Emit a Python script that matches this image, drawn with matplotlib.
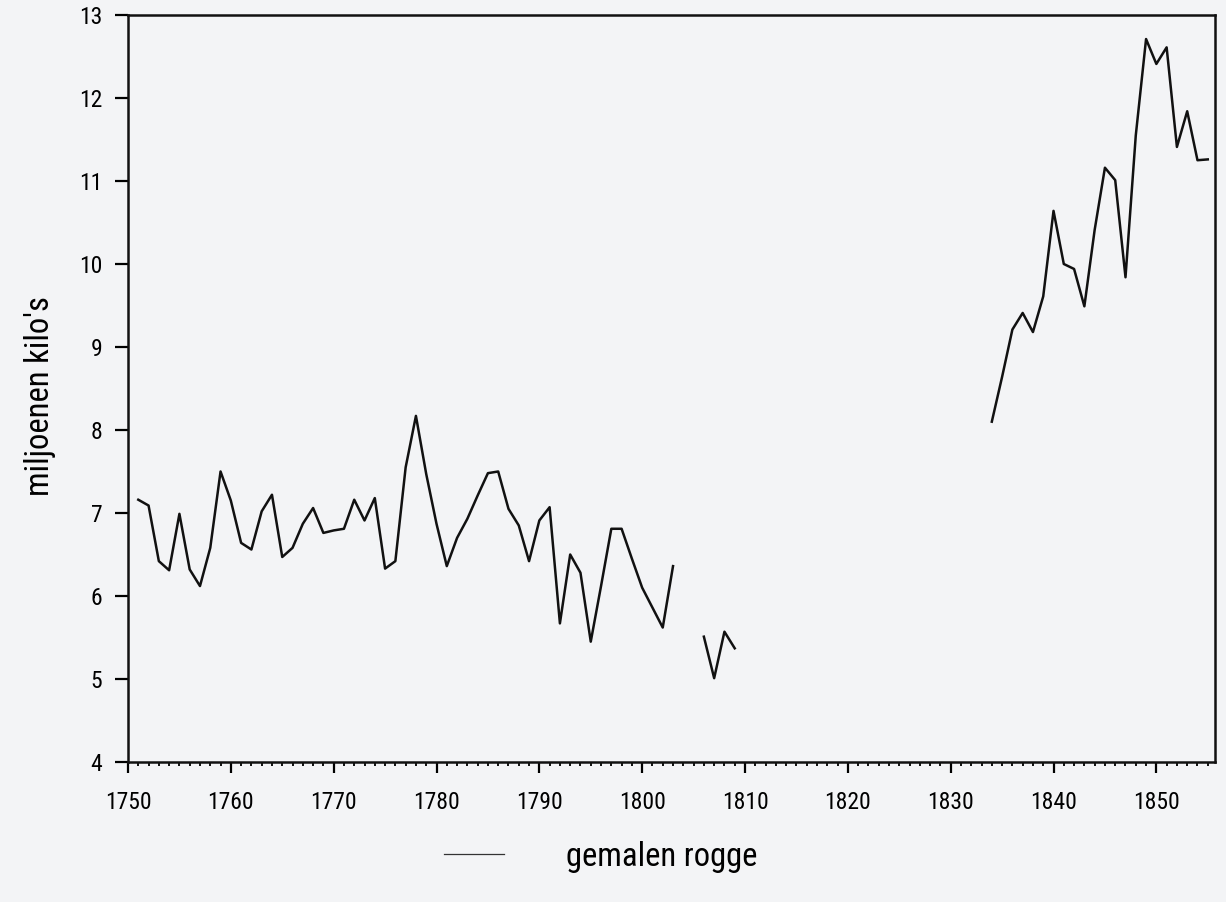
import numpy as np
import matplotlib
matplotlib.use("Agg")
import matplotlib.pyplot as plt
from matplotlib import font_manager
from matplotlib.lines import Line2D

# smalle letter als die er is, anders DejaVu Sans wat kleiner
names = {f.name for f in font_manager.fontManager.ttflist}
narrow = [n for n in ['Liberation Sans Narrow', 'DejaVu Sans Condensed',
                      'Roboto Condensed', 'Open Sans Condensed'] if n in names]
if narrow:
    plt.rcParams['font.family'] = [narrow[0], 'DejaVu Sans']
    scale = 1.0
else:
    plt.rcParams['font.family'] = ['DejaVu Sans']
    scale = 0.8

# jaartallen en hoeveelheden gemalen rogge (miljoenen kilo's), gaten = geen gegevens
years = list(range(1751, 1856))
rogge = {
    1751: 7.16, 1752: 7.09, 1753: 6.42, 1754: 6.31, 1755: 6.99, 1756: 6.32,
    1757: 6.12, 1758: 6.58, 1759: 7.50, 1760: 7.15, 1761: 6.64, 1762: 6.56,
    1763: 7.02, 1764: 7.22, 1765: 6.47, 1766: 6.58, 1767: 6.87, 1768: 7.06,
    1769: 6.76, 1770: 6.79, 1771: 6.81, 1772: 7.16, 1773: 6.91, 1774: 7.18,
    1775: 6.33, 1776: 6.42, 1777: 7.55, 1778: 8.17, 1779: 7.47, 1780: 6.87,
    1781: 6.36, 1782: 6.70, 1783: 6.93, 1784: 7.21, 1785: 7.48, 1786: 7.50,
    1787: 7.05, 1788: 6.85, 1789: 6.42, 1790: 6.91, 1791: 7.07, 1792: 5.67,
    1793: 6.50, 1794: 6.28, 1795: 5.45, 1796: 6.12, 1797: 6.81, 1798: 6.81,
    1799: 6.45, 1800: 6.10, 1801: 5.86, 1802: 5.62, 1803: 6.36,
    1806: 5.51, 1807: 5.01, 1808: 5.57, 1809: 5.37,
    1834: 8.10, 1835: 8.64, 1836: 9.21, 1837: 9.41, 1838: 9.18, 1839: 9.61,
    1840: 10.64, 1841: 10.00, 1842: 9.94, 1843: 9.49, 1844: 10.41, 1845: 11.16,
    1846: 11.01, 1847: 9.84, 1848: 11.55, 1849: 12.71, 1850: 12.41, 1851: 12.61,
    1852: 11.41, 1853: 11.84, 1854: 11.25, 1855: 11.26,
}
values = [rogge.get(y, np.nan) for y in years]

x_major = list(range(1750, 1851, 10))
x_minor = list(range(1750, 1856))
y_ticks = list(range(4, 14))

bg = '#f3f4f6'
fig = plt.figure(figsize=(12.26, 9.02), dpi=100, facecolor=bg)
ax = fig.add_axes([0.1044, 0.1552, 0.8866, 0.8282], facecolor=bg)

ax.plot(years, values, color='#111111', lw=1.8)

ax.set_xlim(1750, 1855.7)
ax.set_ylim(4, 13)
ax.set_xticks(x_major)
ax.set_xticks(x_minor, minor=True)
ax.set_yticks(y_ticks)

for s in ax.spines.values():
    s.set_linewidth(1.8)
    s.set_color('#111111')

ax.tick_params(axis='x', which='major', direction='out', length=8, width=1.6,
               labelsize=17 * scale, pad=13)
ax.tick_params(axis='x', which='minor', direction='out', length=3, width=1.3)
ax.tick_params(axis='y', which='major', direction='out', length=9.5, width=1.6,
               labelsize=17 * scale, pad=9)

ax.set_ylabel("miljoenen kilo's", fontsize=23.5 * scale)
ax.yaxis.set_label_coords(-0.066, 0.49)

handle = Line2D([], [], color='#333333', lw=0.9)
fig.legend([handle], ['gemalen rogge'], loc='center',
           bbox_to_anchor=(0.49, 0.05), frameon=False, fontsize=23.5 * scale,
           handlelength=1.85 / scale, handletextpad=1.9 / scale)

fig.savefig('out.png', dpi=100, facecolor=bg)
